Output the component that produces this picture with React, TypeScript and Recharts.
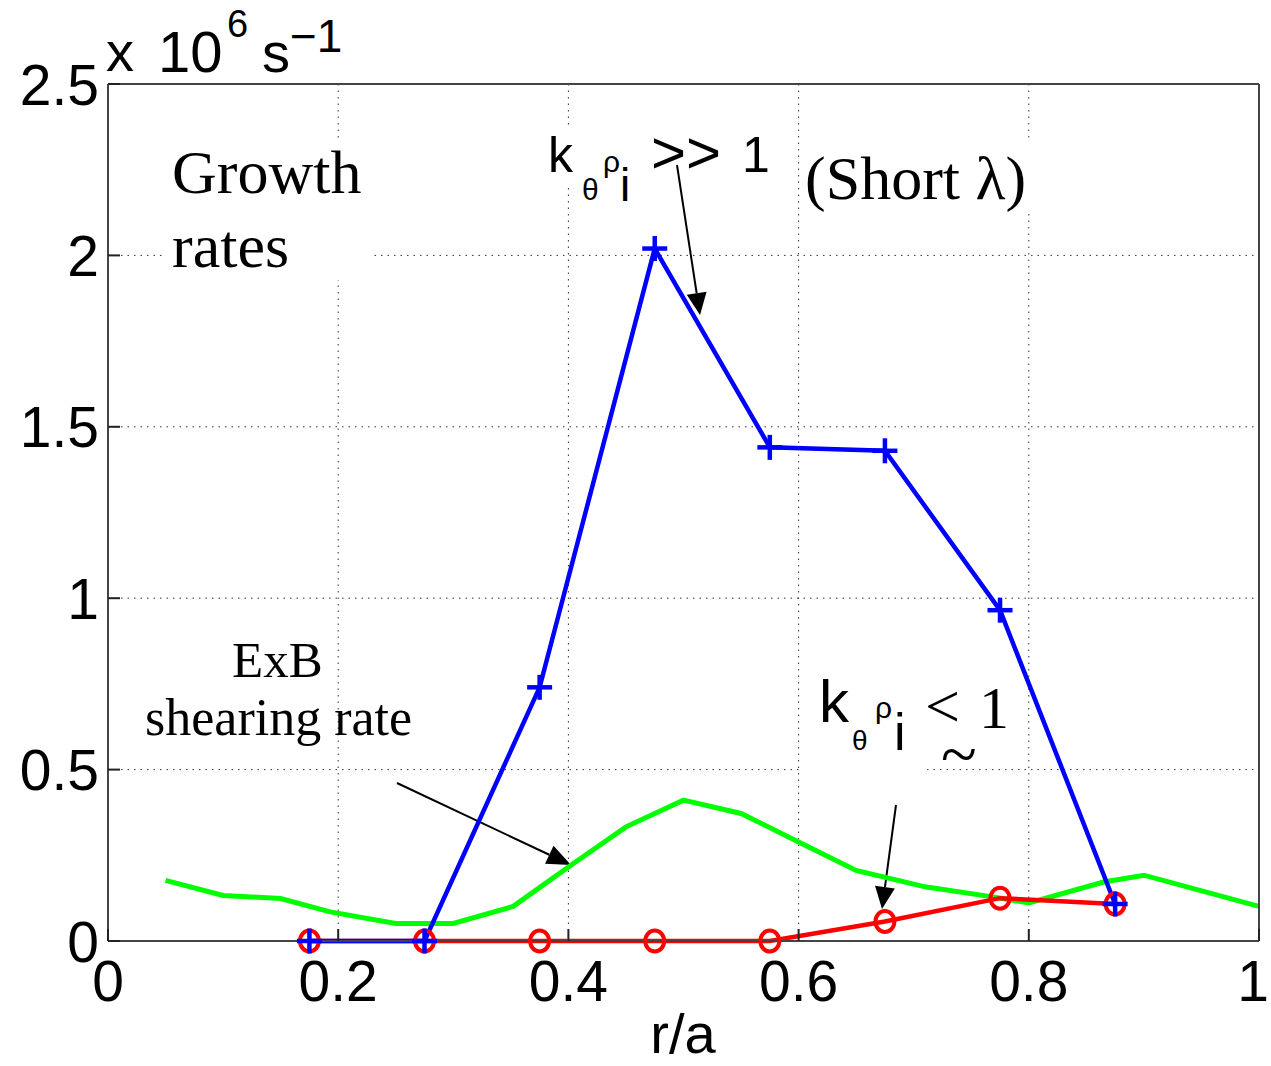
import React from 'react';
import { LineChart, Line, XAxis, YAxis, CartesianGrid, Customized } from 'recharts';

// r/a positions of the gyrokinetic growth-rate points
const radii = [0.175, 0.275, 0.375, 0.475, 0.575, 0.675, 0.775, 0.875];
// k_theta rho_i >> 1 (short wavelength) growth rate, x 10^6 s^-1
const shortWaveGrowth = [0, 0, 0.74, 2.02, 1.44, 1.43, 0.965, 0.108];
// k_theta rho_i <~ 1 growth rate, x 10^6 s^-1
const longWaveGrowth = [0, 0, 0, 0, 0, 0.057, 0.125, 0.108];
// ExB shearing rate profile
const exbRadii = [0.05, 0.1, 0.15, 0.193, 0.25, 0.3, 0.352, 0.4, 0.45, 0.5, 0.55, 0.6, 0.65, 0.71, 0.77, 0.8, 0.865, 0.9, 1.0];
const exbShearingRate = [0.177, 0.133, 0.124, 0.085, 0.051, 0.051, 0.101, 0.216, 0.333, 0.411, 0.372, 0.289, 0.206, 0.158, 0.128, 0.111, 0.172, 0.192, 0.101];

const xTicks = [0, 0.2, 0.4, 0.6, 0.8, 1];
const xTickLabels = ['0', '0.2', '0.4', '0.6', '0.8', '1'];
const yTicks = [0, 0.5, 1, 1.5, 2, 2.5];
const yTickLabels = ['0', '0.5', '1', '1.5', '2', '2.5'];

const shortData = radii.map((x, i) => ({ x, y: shortWaveGrowth[i] }));
const longData = radii.map((x, i) => ({ x, y: longWaveGrowth[i] }));
const exbData = exbRadii.map((x, i) => ({ x, y: exbShearingRate[i] }));

const SANS = '"Liberation Sans", Arial, Helvetica, sans-serif';
const SERIF = '"Liberation Serif", "Times New Roman", serif';
const TICK_FONT = 57;
const TICK_LEN = 12;
const FRAME = '#444';

const labelFor = (labels: string[], ticks: number[], v: number) => {
  const i = ticks.findIndex((t) => Math.abs(t - v) < 1e-9);
  return i >= 0 ? labels[i] : String(v);
};

const BottomTick = (props: any) => {
  const { x, y, payload } = props;
  const label = labelFor(xTickLabels, xTicks, payload.value);
  const last = Math.abs(payload.value - 1) < 1e-9;
  return (
    <g>
      <line x1={x} y1={y} x2={x} y2={y - TICK_LEN} stroke="#222" strokeWidth={2} />
      <text x={last ? x + 10 : x} y={y + 60} textAnchor={last ? 'end' : 'middle'} fontFamily={SANS} fontSize={TICK_FONT} fill="#000">
        {label}
      </text>
    </g>
  );
};

const TopTick = (props: any) => {
  const { x, y } = props;
  return <line x1={x} y1={y} x2={x} y2={y + TICK_LEN} stroke="#222" strokeWidth={2} />;
};

const LeftTick = (props: any) => {
  const { x, y, payload } = props;
  return (
    <g>
      <line x1={x} y1={y} x2={x + TICK_LEN} y2={y} stroke="#222" strokeWidth={2} />
      <text x={x - 9} y={y + 20.5} textAnchor="end" fontFamily={SANS} fontSize={TICK_FONT} fill="#000">
        {labelFor(yTickLabels, yTicks, payload.value)}
      </text>
    </g>
  );
};

const RightTick = (props: any) => {
  const { x, y } = props;
  return <line x1={x} y1={y} x2={x - TICK_LEN} y2={y} stroke="#222" strokeWidth={2} />;
};

const PlusDot = (props: any) => {
  const { cx, cy, index } = props;
  if (cx == null || cy == null) return <g key={`p-${index}`} />;
  return (
    <g key={`p-${index}`}>
      <line x1={cx - 12.5} y1={cy} x2={cx + 12.5} y2={cy} stroke="#0000ff" strokeWidth={4.5} />
      <line x1={cx} y1={cy - 12.5} x2={cx} y2={cy + 12.5} stroke="#0000ff" strokeWidth={4.5} />
    </g>
  );
};

const CircleDot = (props: any) => {
  const { cx, cy, index } = props;
  if (cx == null || cy == null) return <g key={`c-${index}`} />;
  return <ellipse key={`c-${index}`} cx={cx} cy={cy} rx={9.5} ry={10.5} fill="none" stroke="#ff0000" strokeWidth={4} />;
};

const Arrow = ({ x1, y1, x2, y2, len = 22, w = 10 }: any) => {
  const dx = x2 - x1;
  const dy = y2 - y1;
  const L = Math.hypot(dx, dy);
  const ux = dx / L;
  const uy = dy / L;
  const bx = x2 - ux * len;
  const by = y2 - uy * len;
  const px = -uy;
  const py = ux;
  return (
    <g>
      <line x1={x1} y1={y1} x2={bx} y2={by} stroke="#000" strokeWidth={2} />
      <polygon points={`${x2},${y2} ${bx + px * w},${by + py * w} ${bx - px * w},${by - py * w}`} fill="#000" />
    </g>
  );
};

const Annotations = () => (
  <g>
    {/* exponent label */}
    <text x={106} y={71} fontFamily={SANS} fontSize={56} fill="#000">x</text>
    <text x={158} y={72} fontFamily={SANS} fontSize={58} fill="#000">10</text>
    <text x={227} y={37} fontFamily={SANS} fontSize={38} fill="#000">6</text>
    <text x={262} y={72} fontFamily={SANS} fontSize={56} fill="#000">s</text>
    <text x={290} y={52} fontFamily={SANS} fontSize={46} fill="#000">−1</text>

    {/* Growth rates */}
    <rect x={166} y={140} width={206} height={140} fill="#fff" />
    <text x={172} y={193} fontFamily={SERIF} fontSize={62} fill="#000">Growth</text>
    <text x={172} y={267} fontFamily={SERIF} fontSize={62} fill="#000">rates</text>

    {/* k_theta rho_i >> 1 */}
    <rect x={544} y={125} width={232} height={58} fill="#fff" />
    <text x={548} y={172} fontFamily={SANS} fontSize={50} fill="#000">k</text>
    <text x={582} y={200} fontFamily={SANS} fontSize={30} fill="#000">θ</text>
    <text x={603} y={172} fontFamily={SANS} fontSize={30} fill="#000">ρ</text>
    <text x={620} y={201} fontFamily={SANS} fontSize={46} fill="#000">i</text>
    <text x={651} y={173} fontFamily={SANS} fontSize={60} fill="#000">&gt;&gt;</text>
    <text x={742} y={172} fontFamily={SANS} fontSize={50} fill="#000">1</text>

    {/* (Short lambda) */}
    <rect x={800} y={140} width={240} height={70} fill="#fff" />
    <text x={805} y={199} fontFamily={SERIF} fontSize={62} fill="#000">(Short λ)</text>

    {/* ExB shearing rate */}
    <text x={232} y={677} fontFamily={SERIF} fontSize={51} fill="#000">ExB</text>
    <text x={145} y={735} fontFamily={SERIF} fontSize={52} fill="#000">shearing rate</text>

    {/* k_theta rho_i <~ 1 */}
    <rect x={801} y={668} width={122} height={108} fill="#fff" />
    <text x={819} y={722} fontFamily={SANS} fontSize={60} fill="#000">k</text>
    <text x={852} y={750} fontFamily={SANS} fontSize={28} fill="#000">θ</text>
    <text x={875} y={718} fontFamily={SANS} fontSize={30} fill="#000">ρ</text>
    <text x={894} y={750} fontFamily={SANS} fontSize={52} fill="#000">i</text>
    <text x={925} y={727} fontFamily={SERIF} fontSize={62} fill="#000">&lt;</text>
    <text x={941} y={776} fontFamily={SERIF} fontSize={66} fill="#000">~</text>
    <text x={979} y={728} fontFamily={SERIF} fontSize={60} fill="#000">1</text>

    <Arrow x1={677} y1={165} x2={700} y2={315} len={22} w={10} />
    <Arrow x1={397} y1={783} x2={571} y2={865} len={24} w={10} />
    <Arrow x1={896} y1={805} x2={882} y2={909} len={22} w={10} />

    {/* r/a */}
    <text x={683} y={1053} textAnchor="middle" fontFamily={SANS} fontSize={56} fill="#000">r/a</text>
  </g>
);

export default function App() {
  return (
    <div style={{ position: 'absolute', left: 0, top: 0, width: 1271, height: 1066, background: '#fff' }}>
      <LineChart width={1271} height={1066} margin={{ top: 0, right: 0, bottom: 0, left: 0 }}>
        <CartesianGrid stroke="#333" strokeDasharray="1.5 5" strokeWidth={1} />
        <XAxis
          dataKey="x"
          type="number"
          domain={[0, 1]}
          ticks={xTicks}
          interval={0}
          height={125}
          tickSize={0}
          tickMargin={0}
          tickLine={false}
          tick={BottomTick}
          axisLine={{ stroke: FRAME, strokeWidth: 2 }}
        />
        <XAxis
          xAxisId="top"
          orientation="top"
          dataKey="x"
          type="number"
          domain={[0, 1]}
          ticks={xTicks}
          interval={0}
          height={84}
          tickSize={0}
          tickMargin={0}
          tickLine={false}
          tick={TopTick}
          axisLine={{ stroke: FRAME, strokeWidth: 2 }}
        />
        <YAxis
          type="number"
          domain={[0, 2.5]}
          ticks={yTicks}
          interval={0}
          width={108}
          tickSize={0}
          tickMargin={0}
          tickLine={false}
          tick={LeftTick}
          axisLine={{ stroke: FRAME, strokeWidth: 2 }}
        />
        <YAxis
          yAxisId="right"
          orientation="right"
          type="number"
          domain={[0, 2.5]}
          ticks={yTicks}
          interval={0}
          width={12}
          tickSize={0}
          tickMargin={0}
          tickLine={false}
          tick={RightTick}
          axisLine={{ stroke: FRAME, strokeWidth: 2 }}
        />
        <Line
          data={exbData}
          dataKey="y"
          type="linear"
          stroke="#00ff00"
          strokeWidth={5}
          dot={false}
          activeDot={false}
          isAnimationActive={false}
        />
        <Line
          data={longData}
          dataKey="y"
          type="linear"
          stroke="#ff0000"
          strokeWidth={4.5}
          dot={CircleDot}
          activeDot={false}
          isAnimationActive={false}
        />
        <Line
          data={shortData}
          dataKey="y"
          type="linear"
          stroke="#0000ff"
          strokeWidth={4.5}
          dot={PlusDot}
          activeDot={false}
          isAnimationActive={false}
        />
        <Customized component={<Annotations />} />
      </LineChart>
    </div>
  );
}
